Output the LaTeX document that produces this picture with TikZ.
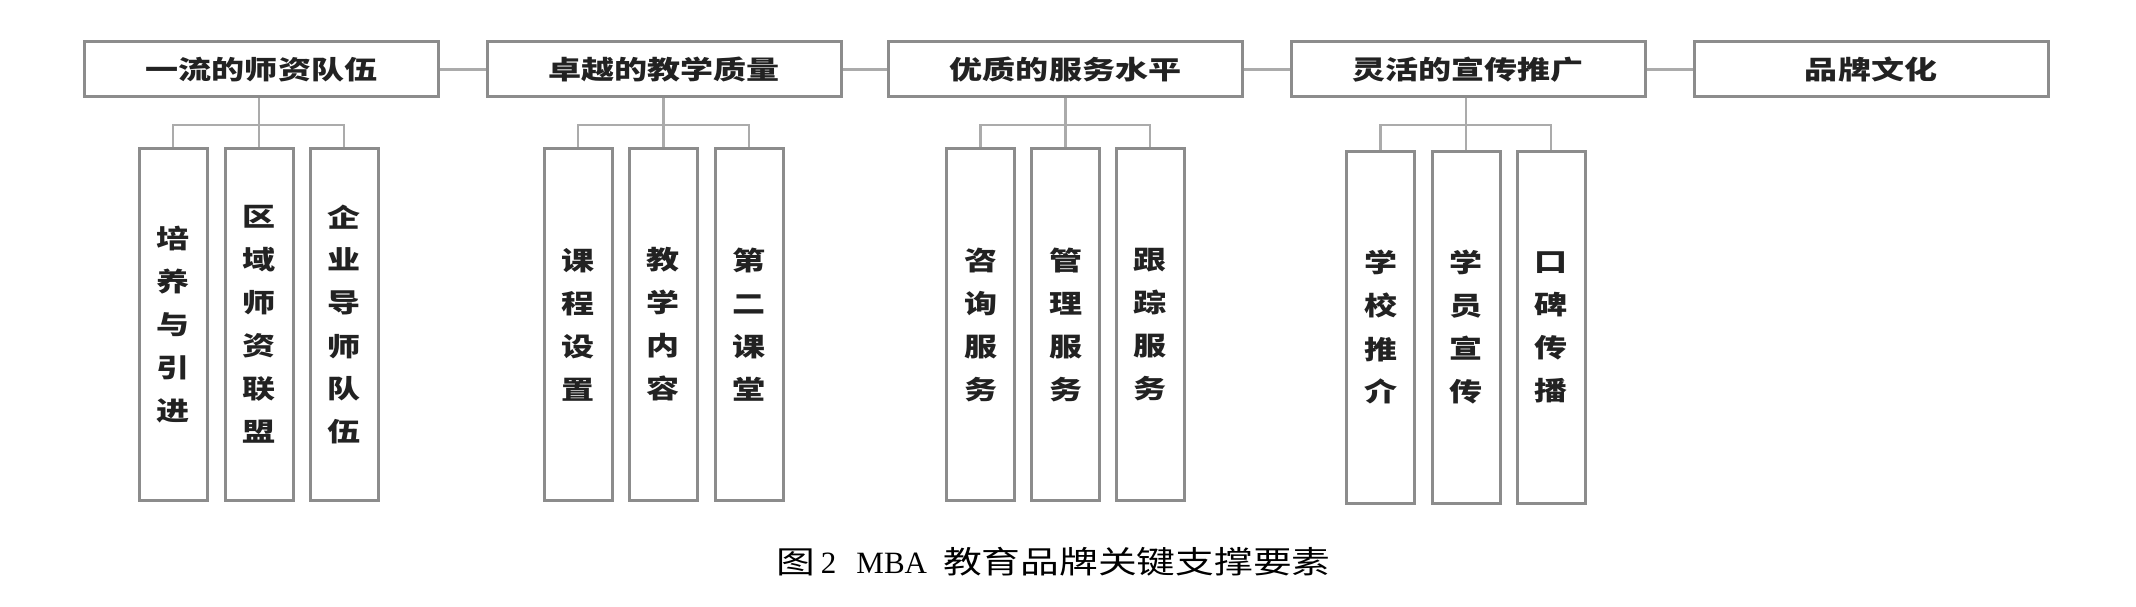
\documentclass[tikz,border=0pt]{standalone}
\usepackage{fontspec}
\usepackage{graphicx}
\setmainfont{Liberation Serif}
\newfontfamily\cjk{Noto Sans CJK SC}
\definecolor{boxgray}{HTML}{8C8C8C}
\definecolor{linegray}{HTML}{ABABAB}
\definecolor{txtc}{HTML}{222222}
\newcommand{\hstr}[1]{\scalebox{1.27}[1]{#1}}
\newcommand{\vstr}[1]{\scalebox{1.27}[1]{\parbox{30pt}{\centering #1}}}
\tikzset{
  topbox/.style={draw=boxgray, line width=3pt, minimum width=354pt, minimum height=55pt,
    inner sep=0pt, font=\cjk\bfseries\fontsize{26}{30}\selectfont, text=txtc},
  subbox/.style={draw=boxgray, line width=3pt, minimum width=68pt, minimum height=352pt,
    inner sep=0pt, font=\cjk\bfseries\fontsize{26}{43}\selectfont, text=txtc},
  conn/.style={draw=linegray, line width=2.5pt}
}
\begin{document}
\begin{tikzpicture}[x=1pt,y=-1pt]
\useasboundingbox (0,0) rectangle (2136,607);
% top row
\node[topbox] (t1) at (261.5,69.5) {\hstr{一流的师资队伍}};
\node[topbox] (t2) at (664,69.5) {\hstr{卓越的教学质量}};
\node[topbox] (t3) at (1065.5,69.5) {\hstr{优质的服务水平}};
\node[topbox] (t4) at (1468,69.5) {\hstr{灵活的宣传推广}};
\node[topbox] (t5) at (1871,69.5) {\hstr{品牌文化}};
% sub boxes
\node[subbox] (s11) at (173,324.5) {\vstr{培\\养\\与\\引\\进}};
\node[subbox] (s12) at (259,324.5) {\vstr{区\\域\\师\\资\\联\\盟}};
\node[subbox] (s13) at (344,324.5) {\vstr{企\\业\\导\\师\\队\\伍}};
\node[subbox] (s21) at (578,324.5) {\vstr{课\\程\\设\\置}};
\node[subbox] (s22) at (663.5,324.5) {\vstr{教\\学\\内\\容}};
\node[subbox] (s23) at (749,324.5) {\vstr{第\\二\\课\\堂}};
\node[subbox] (s31) at (980.5,324.5) {\vstr{咨\\询\\服\\务}};
\node[subbox] (s32) at (1065.5,324.5) {\vstr{管\\理\\服\\务}};
\node[subbox] (s33) at (1150,324.5) {\vstr{跟\\踪\\服\\务}};
\node[subbox] (s41) at (1380.5,327.5) {\vstr{学\\校\\推\\介}};
\node[subbox] (s42) at (1466,327.5) {\vstr{学\\员\\宣\\传}};
\node[subbox] (s43) at (1551,327.5) {\vstr{口\\碑\\传\\播}};
% horizontal links
\draw[conn] (t1.east) -- (t2.west);
\draw[conn] (t2.east) -- (t3.west);
\draw[conn] (t3.east) -- (t4.west);
\draw[conn] (t4.east) -- (t5.west);
% trees
\foreach \i in {1,2,3,4}{
  \coordinate (j\i) at ([yshift=-26.5pt]t\i.south -| s\i2.north);
  \draw[conn] (t\i.south -| s\i2.north) -- (j\i);
  \draw[conn] (s\i1.north) |- (j\i) -| (s\i3.north);
  \draw[conn] (j\i) -- (s\i2.north);
}
% caption
\node[anchor=west, inner sep=0pt, font=\fontsize{31}{36}\selectfont, text=black] (cap) at (776,562)
  {\scalebox{1.25}[1]{\cjk 图}\hspace{6pt}2\hspace{20pt}MBA\hspace{16pt}\scalebox{1.25}[1]{\cjk 教育品牌关键支撑要素}};
\end{tikzpicture}
\end{document}
